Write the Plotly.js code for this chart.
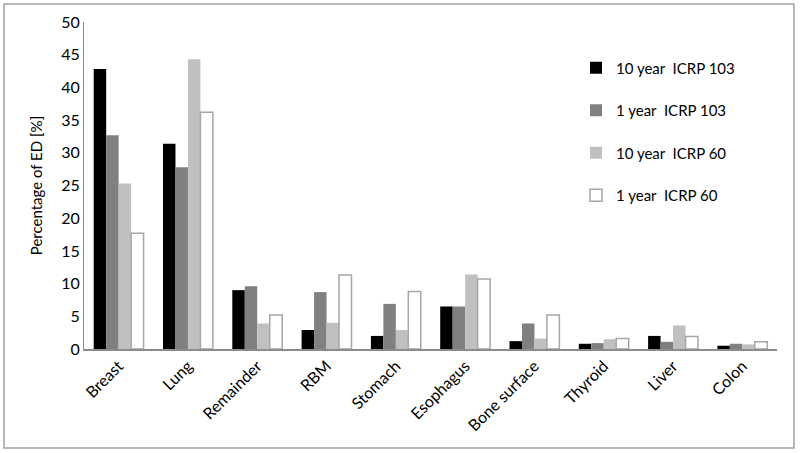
<!DOCTYPE html>
<html>
<head>
<meta charset="utf-8">
<script src="https://cdn.plot.ly/plotly-3.0.1.min.js"></script>
<style>
  body { margin: 0; background: #fff; }
  #chart { width: 800px; height: 453px; }
</style>
</head>
<body>
<div id="chart"></div>
<script>
// organs on the x axis
const organs = ['Breast', 'Lung', 'Remainder', 'RBM', 'Stomach', 'Esophagus', 'Bone surface', 'Thyroid', 'Liver', 'Colon'];

// percentage of ED per series
const tenYear103 = [42.8, 31.4, 9.0, 2.9, 2.0, 6.5, 1.2, 0.8, 2.0, 0.5];
const oneYear103 = [32.7, 27.8, 9.6, 8.7, 6.9, 6.5, 3.9, 0.9, 1.1, 0.8];
const tenYear60 = [25.3, 44.3, 3.9, 4.0, 2.9, 11.4, 1.6, 1.5, 3.6, 0.7];
const oneYear60 = [17.7, 36.2, 5.2, 11.3, 8.8, 10.7, 5.2, 1.6, 1.9, 1.1];

const seriesNames = ['10 year  ICRP 103', '1 year  ICRP 103', '10 year  ICRP 60', '1 year  ICRP 60'];

const font = 'Lato, "Open Sans", sans-serif';

function barTrace(name, values, fill, outline) {
    return {
        type: 'bar',
        name: name,
        x: organs,
        y: values,
        legendgroup: name,
        marker: {
            color: fill,
            line: { color: outline || fill, width: outline ? 1.5 : 0 }
        },
        hoverinfo: 'x+y+name'
    };
}

const traces = [
    barTrace(seriesNames[0], tenYear103, '#000000'),
    barTrace(seriesNames[1], oneYear103, '#808080'),
    barTrace(seriesNames[2], tenYear60, '#c0c0c0'),
    barTrace(seriesNames[3], oneYear60, '#ffffff', '#a6a6a6')
];

const layout = {
    width: 800,
    height: 453,
    margin: { l: 84, r: 23, t: 22, b: 104 },
    paper_bgcolor: '#ffffff',
    plot_bgcolor: '#ffffff',
    font: { family: font, color: '#000', size: 14 },
    barmode: 'group',
    bargap: 0.28,
    bargroupgap: 0,
    showlegend: true,
    legend: {
        x: 0.71, y: 0.91,
        xanchor: 'left', yanchor: 'top',
        font: { family: font, size: 15, color: '#000' },
        traceorder: 'grouped',
        tracegroupgap: 20,
        itemwidth: 30,
        bgcolor: 'rgba(0,0,0,0)'
    },
    xaxis: {
        type: 'category',
        tickangle: -45,
        showline: true,
        linecolor: '#8c8c8c',
        linewidth: 1.5,
        showgrid: false,
        ticks: '',
        tickfont: { family: font, size: 16, color: '#000' }
    },
    yaxis: {
        range: [0, 50],
        dtick: 5,
        showline: true,
        linecolor: '#8c8c8c',
        linewidth: 1,
        showgrid: false,
        zeroline: false,
        ticks: '',
        tickfont: { family: font, size: 16, color: '#000' },
        title: { text: 'Percentage of ED [%]', font: { family: font, size: 15, color: '#000' }, standoff: 14 }
    },
    shapes: [{
        type: 'rect',
        xref: 'paper', yref: 'paper',
        x0: -0.1154, x1: 1.0245,
        y0: -0.3028, y1: 1.055,
        line: { color: '#a0a0a0', width: 1.5 },
        fillcolor: 'rgba(0,0,0,0)',
        layer: 'below'
    }]
};

Plotly.newPlot('chart', traces, layout, { displayModeBar: false, staticPlot: true });
</script>
</body>
</html>
